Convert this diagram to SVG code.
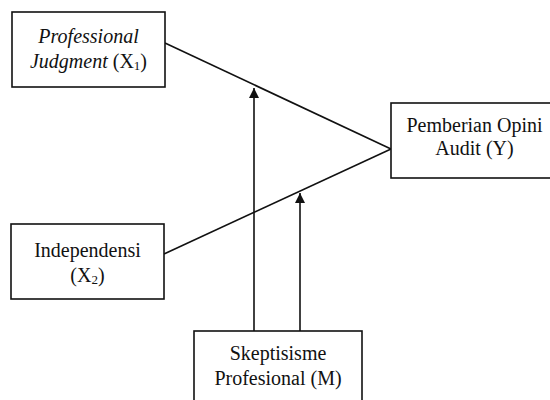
<svg xmlns="http://www.w3.org/2000/svg" width="550" height="400" viewBox="0 0 550 400">
<defs>
<style>
.box{fill:#fff;stroke:#111;stroke-width:1.6}
.t{font-family:"Liberation Serif","Times New Roman",serif;font-size:20px;fill:#111;text-anchor:middle}
.ln{stroke:#111;stroke-width:1.6;fill:none}
</style>
<marker id="ah" viewBox="0 0 10 10" refX="10" refY="5" markerWidth="10" markerHeight="10" markerUnits="userSpaceOnUse" orient="auto">
<path d="M0,0 L10,5 L0,10 Z" fill="#111"/>
</marker>
</defs>
<rect width="550" height="400" fill="#fff"/>
<g id="connectors">
<line class="ln" x1="165" y1="43" x2="391" y2="149"/>
<line class="ln" x1="164" y1="254" x2="391" y2="149"/>
<path class="ln" d="M254,331 V88" marker-end="url(#ah)"/>
<path class="ln" d="M300,331 V193" marker-end="url(#ah)"/>
</g>
<g id="x1">
<rect class="box" x="12" y="12" width="153" height="75"/>
<text class="t" x="88.5" y="43" font-style="italic">Professional</text>
<text class="t" x="88.5" y="68"><tspan font-style="italic">Judgment</tspan> (X<tspan font-size="13" dy="2">1</tspan><tspan dy="-2">)</tspan></text>
</g>
<g id="x2">
<rect class="box" x="11" y="224" width="153" height="75"/>
<text class="t" x="87.5" y="257">Independensi</text>
<text class="t" x="87.5" y="282">(X<tspan font-size="13" dy="2">2</tspan><tspan dy="-2">)</tspan></text>
</g>
<g id="y">
<rect class="box" x="391" y="103" width="167" height="75"/>
<text class="t" x="474.5" y="132">Pemberian Opini</text>
<text class="t" x="474.5" y="155">Audit (Y)</text>
</g>
<g id="m">
<rect class="box" x="194" y="331" width="168" height="80"/>
<text class="t" x="278" y="360">Skeptisisme</text>
<text class="t" x="278" y="385">Profesional (M)</text>
</g>
</svg>
